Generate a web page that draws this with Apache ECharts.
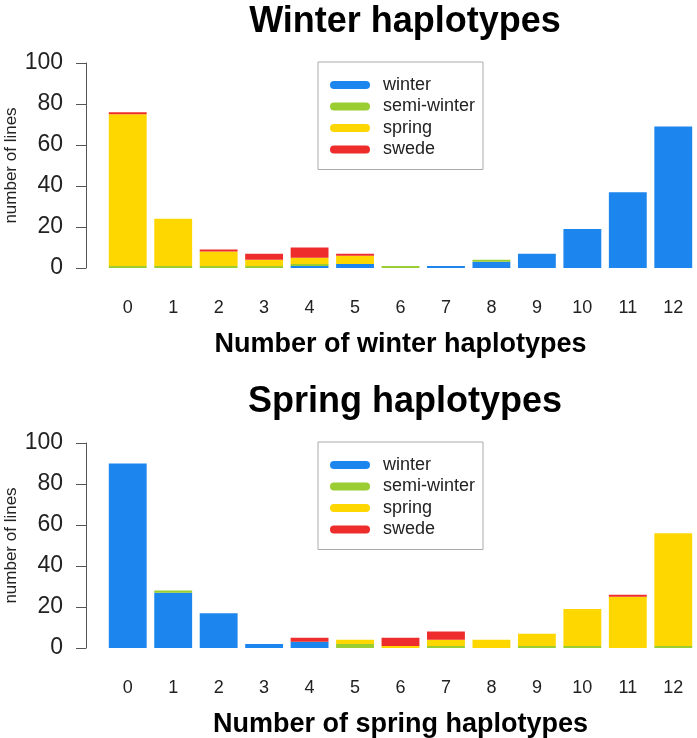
<!DOCTYPE html>
<html><head><meta charset="utf-8">
<script src="https://cdn.jsdelivr.net/npm/echarts@6/dist/echarts.min.js"></script>
<style>html,body{margin:0;padding:0;background:#fff}#c{width:697px;height:738px}</style>
</head><body><div id="c"></div>
<script>
const categories = ['0','1','2','3','4','5','6','7','8','9','10','11','12'];
const seriesNames = ['winter','semi-winter','spring','swede'];
const colors = ['#1C86EE','#9ACD32','#FFD700','#EE2C2C'];
// Winter haplotypes chart
const wWinter = [0,0,0,0,1,2,0,1,3,7,19,37,69];
const wSemi   = [1,1,1,1,1,0,1,0,1,0,0,0,0];
const wSpring = [74,23,7,3,3,4,0,0,0,0,0,0,0];
const wSwede  = [1,0,1,3,5,1,0,0,0,0,0,0,0];
// Spring haplotypes chart
const sWinter = [90,27,17,2,3,0,0,0,0,0,0,0,0];
const sSemi   = [0,1,0,0,0,2,0,1,0,1,1,0,1];
const sSpring = [0,0,0,0,0,2,1,3,4,6,18,25,55];
const sSwede  = [0,0,0,0,2,0,4,4,0,0,0,1,0];
const yTicks = [0,20,40,60,80,100];

const font = '"Liberation Sans", Arial, Helvetica, sans-serif';
const chart = echarts.init(document.getElementById('c'), null, {renderer:'canvas'});
const topData = [wWinter,wSemi,wSpring,wSwede];
const botData = [sWinter,sSemi,sSpring,sSwede];
const series = [];
topData.forEach((d,i)=>series.push({name:seriesNames[i],type:'bar',stack:'a',xAxisIndex:0,yAxisIndex:0,data:d,barCategoryGap:'16.7%',itemStyle:{color:colors[i]},emphasis:{disabled:true}}));
botData.forEach((d,i)=>series.push({name:seriesNames[i],type:'bar',stack:'b',xAxisIndex:1,yAxisIndex:1,data:d,barCategoryGap:'16.7%',itemStyle:{color:colors[i]},emphasis:{disabled:true}}));
const icon = 'path://M4,0 L36,0 A4,4 0 0 1 36,8 L4,8 A4,4 0 0 1 4,0 Z';
function legend(t){return {orient:'vertical',left:318,top:t,padding:[14,8,11,12],itemWidth:40,itemHeight:8,itemGap:3.5,icon:icon,
  borderColor:'#aaa',borderWidth:1,selectedMode:false,data:seriesNames,
  textStyle:{fontFamily:font,fontSize:18,color:'#222',padding:[0,0,0,8],lineHeight:18}};}
function xAx(gi,name){return {type:'category',gridIndex:gi,data:categories,axisLine:{show:false},axisTick:{show:false},
  axisLabel:{fontFamily:font,fontSize:18,color:'#222',margin:31},name:name,nameLocation:'middle',nameGap:63,nameMoveOverlap:false,
  nameTextStyle:{fontFamily:font,fontSize:27,fontWeight:'bold',color:'#000'}};}
function yAx(gi){return {type:'value',gridIndex:gi,min:0,max:100,interval:20,offset:19,splitLine:{show:false},
  axisLine:{show:true,lineStyle:{color:'#555',width:1}},axisTick:{show:true,length:10,lineStyle:{color:'#555'}},
  axisLabel:{fontFamily:font,fontSize:23,color:'#222',margin:23},name:'number of lines',nameLocation:'middle',nameGap:66,nameMoveOverlap:false,
  nameTextStyle:{fontFamily:font,fontSize:17,color:'#222'}};}
chart.setOption({
  animation:false,
  title:[
    {text:'Winter haplotypes',left:400,top:-1,textAlign:'center',textStyle:{fontFamily:font,fontSize:36,fontWeight:'bold',color:'#000'}},
    {text:'Spring haplotypes',left:400,top:379,textAlign:'center',textStyle:{fontFamily:font,fontSize:36,fontWeight:'bold',color:'#000'}}
  ],
  legend:[legend(62),legend(442)],
  grid:[{left:105,top:63,width:591,height:205,outerBoundsMode:'none'},{left:105,top:443,width:591,height:205,outerBoundsMode:'none'}],
  xAxis:[xAx(0,'Number of winter haplotypes'),xAx(1,'Number of spring haplotypes')],
  yAxis:[yAx(0),yAx(1)],
  series:series
});
</script></body></html>
